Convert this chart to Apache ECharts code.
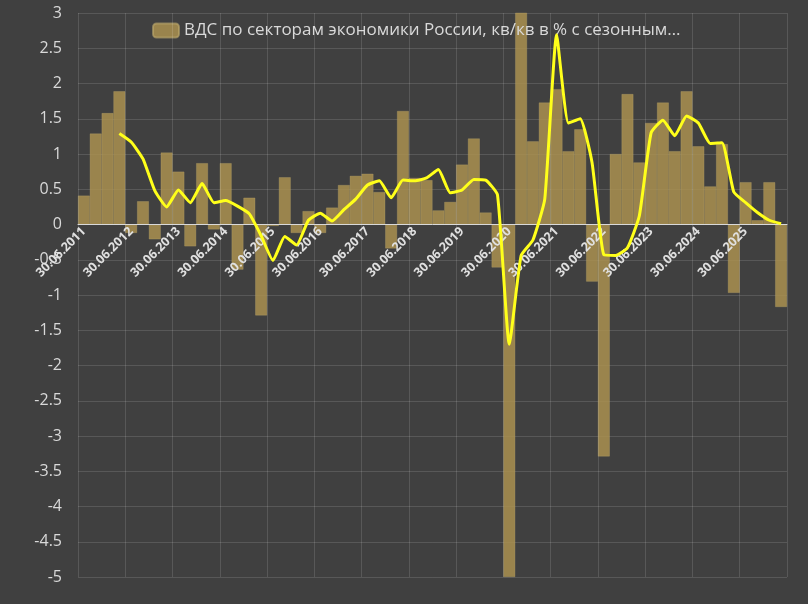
<!DOCTYPE html>
<html>
<head>
<meta charset="utf-8">
<script src="https://cdn.jsdelivr.net/npm/echarts@6/dist/echarts.min.js"></script>
<style>
html,body{margin:0;padding:0;background:#404040;}
#chart{width:808px;height:604px;}
</style>
</head>
<body>
<div id="chart"></div>
<script>
// кварталы с 30.06.2011
var startYear = 2011;
var quarterEnds = ['31.03', '30.06', '30.09', '31.12'];
var categories = [];
for (var k = 0; k < 60; k++) {
	var q = (k + 1) % 4, y = startYear + Math.floor((k + 1) / 4);
	categories.push(quarterEnds[q] + '.' + y);
}

// ВДС кв/кв, %
var gva = [0.41, 1.29, 1.58, 1.89, -0.12, 0.33, -0.21, 1.02, 0.75, -0.31,
	0.87, -0.07, 0.87, -0.64, 0.38, -1.29, -0.02, 0.67, -0.12, 0.19,
	-0.12, 0.24, 0.56, 0.69, 0.72, 0.46, -0.34, 1.61, 0.66, 0.63,
	0.2, 0.32, 0.85, 1.22, 0.17, -0.61, -5.0, 3.2, 1.18, 1.73,
	1.92, 1.04, 1.35, -0.81, -3.29, 1.0, 1.85, 0.88, 1.44, 1.73,
	1.04, 1.89, 1.11, 0.54, 1.14, -0.97, 0.6, 0.06, 0.6, -1.17];

// сглаженная линия
var trend = [null, null, null, 1.29, 1.17, 0.93, 0.48, 0.25, 0.49, 0.31,
	0.58, 0.31, 0.34, 0.26, 0.15, -0.16, -0.51, -0.17, -0.29, 0.06,
	0.16, 0.05, 0.21, 0.36, 0.56, 0.62, 0.38, 0.63, 0.62, 0.66,
	0.78, 0.45, 0.49, 0.64, 0.63, 0.42, -1.7, -0.44, -0.22, 0.36,
	2.69, 1.44, 1.5, 0.88, -0.43, -0.44, -0.33, 0.12, 1.3, 1.48,
	1.26, 1.54, 1.44, 1.15, 1.16, 0.46, 0.31, 0.17, 0.06, 0.01];

var yMin = -5, yMax = 3;
var gridTop = 13, gridBottom = 27, H = 604;
var zeroOffset = -(H - gridTop - gridBottom) * (0 - yMin) / (yMax - yMin);

var myChart = echarts.init(document.getElementById('chart'));
var gridColor = 'rgba(255,255,255,0.13)';
var option = {
	backgroundColor: '#404040',
	animation: false,
	grid: {left: 78, right: 21, top: gridTop, bottom: gridBottom, containLabel: false, outerBoundsMode: 'none'},
	legend: {
		top: 17, left: 147,
		data: [{name: 'ВДС по секторам экономики России, кв/кв в % с сезонным…'}],
		itemWidth: 26, itemHeight: 14,
		textStyle: {color: '#d9d9d9', fontSize: 17, fontFamily: 'Open Sans'}
	},
	xAxis: {
		type: 'category',
		data: categories,
		boundaryGap: true,
		offset: zeroOffset,
		z: 10,
		axisLine: {onZero: false, lineStyle: {color: '#d9d9d9', width: 1}},
		axisTick: {show: false},
		splitLine: {show: true, interval: 3, lineStyle: {color: gridColor}},
		axisLabel: {
			interval: 3, rotate: 45, color: '#e0e0e0', fontSize: 12.5,
			fontWeight: 'bold', fontFamily: 'Open Sans', margin: 5
		}
	},
	yAxis: {
		type: 'value', min: yMin, max: yMax, interval: 0.5,
		axisLine: {show: false}, axisTick: {show: false},
		splitLine: {lineStyle: {color: gridColor}},
		axisLabel: {color: '#d9d9d9', fontSize: 16, fontFamily: 'Open Sans', margin: 16}
	},
	series: [{
		name: 'ВДС по секторам экономики России, кв/кв в % с сезонным…',
		type: 'bar',
		data: gva,
		barCategoryGap: '0%',
		itemStyle: {color: 'rgba(170,145,80,0.85)', borderColor: 'rgba(190,170,110,0.6)', borderWidth: 0.5}
	}, {
		name: 'trend',
		type: 'line',
		data: trend,
		symbol: 'none',
		smooth: 0.15,
		z: 20,
		lineStyle: {color: '#ffff1a', width: 3}
	}]
};
myChart.setOption(option);
</script>
</body>
</html>
